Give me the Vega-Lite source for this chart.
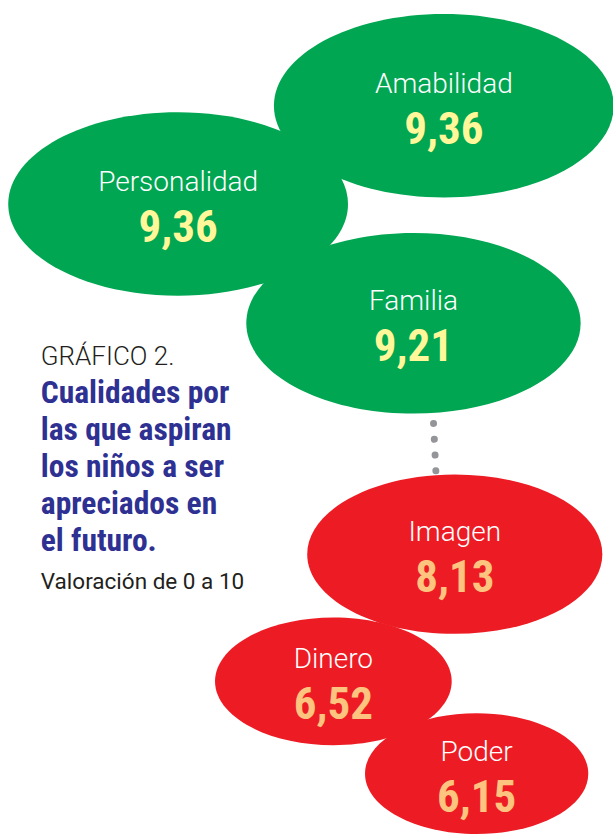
{
  "$schema": "https://vega.github.io/schema/vega-lite/v6.json",
  "width": 613,
  "height": 834,
  "autosize": {"type": "fit", "contains": "padding"},
  "padding": 0,
  "background": "white",
  "config": {"view": {"stroke": null}},
  "datasets": {
    "cualidades": [
      {"cualidad": "Amabilidad", "valor": 9.36, "etiqueta": "9,36", "grupo": "alta", "px": 446, "py": 106},
      {"cualidad": "Personalidad", "valor": 9.36, "etiqueta": "9,36", "grupo": "alta", "px": 179, "py": 204.5},
      {"cualidad": "Familia", "valor": 9.21, "etiqueta": "9,21", "grupo": "alta", "px": 415.5, "py": 324},
      {"cualidad": "Imagen", "valor": 8.13, "etiqueta": "8,13", "grupo": "baja", "px": 457, "py": 555.5},
      {"cualidad": "Dinero", "valor": 6.52, "etiqueta": "6,52", "grupo": "baja", "px": 335, "py": 683},
      {"cualidad": "Poder", "valor": 6.15, "etiqueta": "6,15", "grupo": "baja", "px": 479, "py": 775.5}
    ],
    "conector": [{"x1": 435.7, "y1": 424.5, "x2": 438, "y2": 472}],
    "titulo": [
      {"linea": "GRÁFICO 2.", "estilo": "encabezado", "tx": 41, "ty": 366},
      {"linea": "Cualidades por", "estilo": "destacado", "tx": 41, "ty": 404},
      {"linea": "las que aspiran", "estilo": "destacado", "tx": 41, "ty": 441.5},
      {"linea": "los niños a ser", "estilo": "destacado", "tx": 41, "ty": 478.5},
      {"linea": "apreciados en", "estilo": "destacado", "tx": 41, "ty": 515.5},
      {"linea": "el futuro.", "estilo": "destacado", "tx": 41, "ty": 552.5},
      {"linea": "Valoración de 0 a 10", "estilo": "nota", "tx": 41, "ty": 590}
    ]
  },
  "layer": [
    {
      "data": {"name": "conector"},
      "mark": {"type": "rule", "color": "#939598", "strokeWidth": 7, "strokeCap": "round", "strokeDash": [0.01, 15.8]},
      "encoding": {
        "x": {"field": "x1", "type": "quantitative", "scale": {"domain": [0, 613], "nice": false, "zero": false}, "axis": null},
        "y": {"field": "y1", "type": "quantitative", "scale": {"domain": [0, 834], "nice": false, "zero": false, "reverse": true}, "axis": null},
        "x2": {"field": "x2"},
        "y2": {"field": "y2"}
      }
    },
    {
      "data": {"name": "cualidades"},
      "mark": {
        "type": "point",
        "filled": true,
        "opacity": 1,
        "strokeWidth": 0,
        "shape": "M-1,0C-1,-0.2982,-0.5523,-0.54,0,-0.54C0.5523,-0.54,1,-0.2982,1,0C1,0.2982,0.5523,0.54,0,0.54C-0.5523,0.54,-1,0.2982,-1,0Z"
      },
      "encoding": {
        "x": {"field": "px", "type": "quantitative", "scale": {"domain": [0, 613], "nice": false, "zero": false}, "axis": null},
        "y": {"field": "py", "type": "quantitative", "scale": {"domain": [0, 834], "nice": false, "zero": false, "reverse": true}, "axis": null},
        "size": {"field": "valor", "type": "quantitative", "scale": {"type": "pow", "exponent": 2, "domain": [0, 10], "range": [0, 131770]}, "legend": null},
        "fill": {"field": "grupo", "type": "nominal", "scale": {"domain": ["alta", "baja"], "range": ["#00A651", "#ED1C24"]}, "legend": null}
      }
    },
    {
      "data": {"name": "cualidades"},
      "mark": {"type": "text", "align": "center", "baseline": "alphabetic", "dy": -13, "font": "Roboto", "fontWeight": 300, "fontSize": 28, "color": "white"},
      "encoding": {
        "x": {"field": "px", "type": "quantitative", "scale": {"domain": [0, 613], "nice": false, "zero": false}, "axis": null},
        "y": {"field": "py", "type": "quantitative", "scale": {"domain": [0, 834], "nice": false, "zero": false, "reverse": true}, "axis": null},
        "text": {"field": "cualidad", "type": "nominal"}
      }
    },
    {
      "data": {"name": "cualidades"},
      "mark": {"type": "text", "align": "center", "baseline": "alphabetic", "dy": 38, "font": "Roboto Condensed, Open Sans Condensed, Arial Narrow, Roboto", "fontWeight": "bold", "fontSize": 45},
      "encoding": {
        "x": {"field": "px", "type": "quantitative", "scale": {"domain": [0, 613], "nice": false, "zero": false}, "axis": null},
        "y": {"field": "py", "type": "quantitative", "scale": {"domain": [0, 834], "nice": false, "zero": false, "reverse": true}, "axis": null},
        "text": {"field": "etiqueta", "type": "nominal"},
        "color": {"field": "grupo", "type": "nominal", "scale": {"domain": ["alta", "baja"], "range": ["#FFF799", "#FDC47F"]}, "legend": null}
      }
    },
    {
      "data": {"name": "titulo"},
      "transform": [{"filter": "datum.estilo === 'encabezado'"}],
      "mark": {"type": "text", "align": "left", "baseline": "alphabetic", "font": "Roboto", "fontWeight": 300, "fontSize": 26, "color": "#231F20"},
      "encoding": {
        "x": {"field": "tx", "type": "quantitative", "scale": {"domain": [0, 613], "nice": false, "zero": false}, "axis": null},
        "y": {"field": "ty", "type": "quantitative", "scale": {"domain": [0, 834], "nice": false, "zero": false, "reverse": true}, "axis": null},
        "text": {"field": "linea", "type": "nominal"}
      }
    },
    {
      "data": {"name": "titulo"},
      "transform": [{"filter": "datum.estilo === 'destacado'"}],
      "mark": {"type": "text", "align": "left", "baseline": "alphabetic", "font": "Roboto Condensed, Open Sans Condensed, Arial Narrow, Roboto", "fontWeight": "bold", "fontSize": 31.5, "color": "#2E3192"},
      "encoding": {
        "x": {"field": "tx", "type": "quantitative", "scale": {"domain": [0, 613], "nice": false, "zero": false}, "axis": null},
        "y": {"field": "ty", "type": "quantitative", "scale": {"domain": [0, 834], "nice": false, "zero": false, "reverse": true}, "axis": null},
        "text": {"field": "linea", "type": "nominal"}
      }
    },
    {
      "data": {"name": "titulo"},
      "transform": [{"filter": "datum.estilo === 'nota'"}],
      "mark": {"type": "text", "align": "left", "baseline": "alphabetic", "font": "Roboto", "fontSize": 22.5, "color": "#231F20"},
      "encoding": {
        "x": {"field": "tx", "type": "quantitative", "scale": {"domain": [0, 613], "nice": false, "zero": false}, "axis": null},
        "y": {"field": "ty", "type": "quantitative", "scale": {"domain": [0, 834], "nice": false, "zero": false, "reverse": true}, "axis": null},
        "text": {"field": "linea", "type": "nominal"}
      }
    }
  ]
}
